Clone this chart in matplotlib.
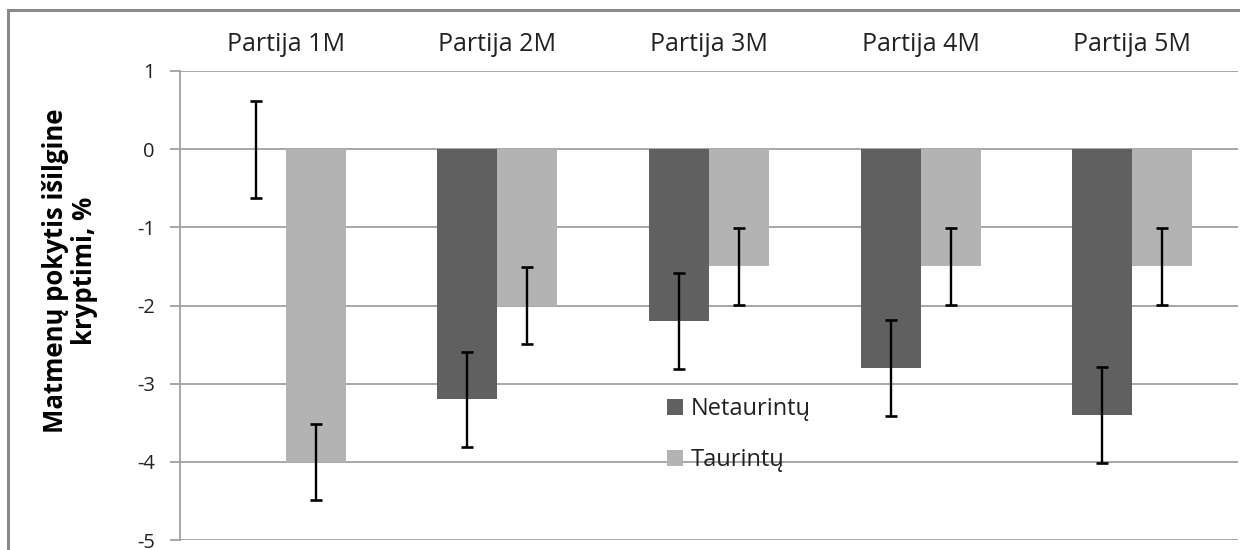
import matplotlib
matplotlib.use("Agg")
import matplotlib.pyplot as plt
import numpy as np
from matplotlib.patches import Rectangle

categories = ["Partija 1M", "Partija 2M", "Partija 3M", "Partija 4M", "Partija 5M"]
series_names = ["Netaurintų", "Taurintų"]
netaurintu = [0.0, -3.2, -2.2, -2.8, -3.4]
netaurintu_err = [0.62, 0.61, 0.61, 0.62, 0.61]
taurintu = [-4.0, -2.0, -1.5, -1.5, -1.5]
taurintu_err = [0.49, 0.49, 0.49, 0.49, 0.49]
yticks = [1, 0, -1, -2, -3, -4, -5]

plt.rcParams['font.family'] = ['Open Sans', 'DejaVu Sans']

fig = plt.figure(figsize=(12.4, 5.5), dpi=100)
ax = fig.add_axes([180/1240, 10/550, 1058/1240, 469/550])

x = np.arange(len(categories))
w = 0.284
grid_c = "#a0a0a0"
ax.bar(x - w/2, netaurintu, w, color="#606060", label=series_names[0], zorder=2)
ax.bar(x + w/2, taurintu, w, color="#b3b3b3", label=series_names[1], zorder=2)
ax.errorbar(x - w/2, netaurintu, yerr=netaurintu_err, fmt='none', ecolor='black',
            elinewidth=1.7, capsize=4.2, capthick=1.9, zorder=3)
ax.errorbar(x + w/2, taurintu, yerr=taurintu_err, fmt='none', ecolor='black',
            elinewidth=1.7, capsize=4.2, capthick=1.9, zorder=3)

ax.set_xlim(-0.5, len(categories) - 0.5)
ax.set_ylim(-5, 1)
ax.set_yticks(yticks)
ax.set_yticklabels([str(t) for t in yticks], fontsize=14.5, color="#222222")
ax.yaxis.grid(True, color=grid_c, linewidth=1.3, zorder=0)
ax.set_axisbelow(True)
ax.tick_params(axis='y', length=7, width=1.3, color=grid_c, pad=11)

ax.xaxis.tick_top()
ax.set_xticks(x)
ax.set_xticklabels(categories, fontsize=18, color="#222222")
ax.tick_params(axis='x', length=0, pad=10)

for s in ['top', 'right', 'bottom']:
    ax.spines[s].set_visible(False)
ax.spines['left'].set_color(grid_c)
ax.spines['left'].set_linewidth(1.3)

leg = ax.legend(loc='upper left', bbox_to_anchor=(0.44, 0.35), frameon=False,
                fontsize=17, handlelength=0.7, handleheight=0.7, labelspacing=1.15,
                handletextpad=0.3)
for t in leg.get_texts():
    t.set_color("#222222")

fig.text(70/1240, 1 - 271/550, "Matmenų pokytis išilgine\nkryptimi, %", rotation=90,
         ha='center', va='center', fontsize=18.5, fontweight='bold', color='black',
         linespacing=1.1)

fig.patches.append(Rectangle((8/1240, -0.1), 1.1, 1 - 10/550 + 0.1, transform=fig.transFigure,
                             fill=False, edgecolor="#8a8a8a", linewidth=2.2))

fig.savefig("out.png", dpi=100)
